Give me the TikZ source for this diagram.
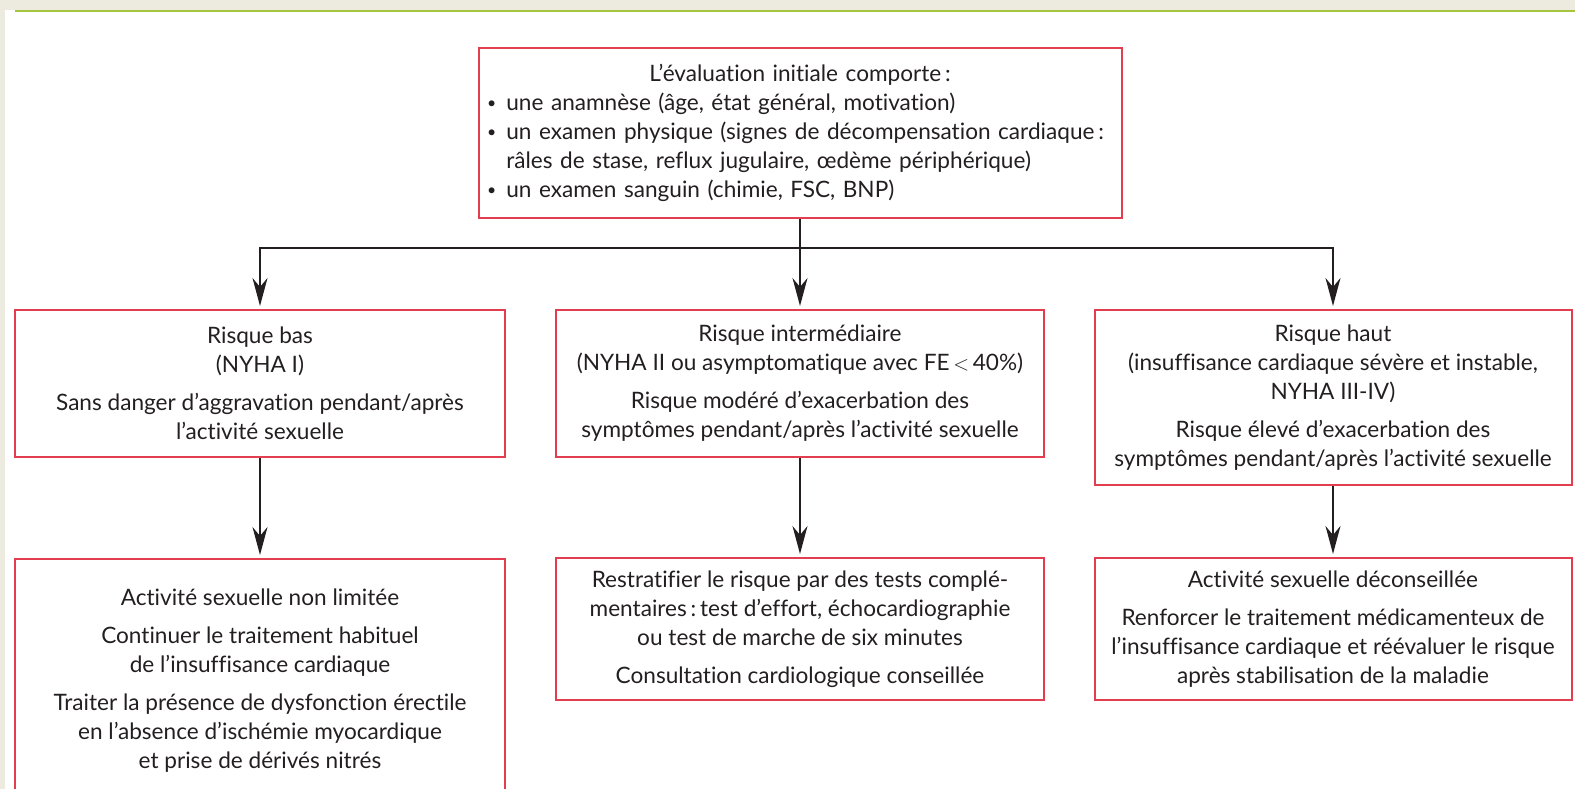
\documentclass[tikz,border=0pt]{standalone}
\usepackage{fontspec}
\setmainfont{Lato}[Ligatures={TeX,NoCommon}]
\usetikzlibrary{arrows.meta}
\definecolor{boxred}{RGB}{226,62,80}
\definecolor{ink}{RGB}{35,31,32}
\definecolor{strip}{RGB}{237,235,223}
\definecolor{rule}{RGB}{166,196,60}
\newcommand{\dotitem}{\raisebox{0.2ex}{\scalebox{0.7}{\textbullet}}\hspace{0.45em}}
\begin{document}
\begin{tikzpicture}[x=1pt, y=-1pt]
  \tikzstyle{every node}=[rectangle, draw=boxred, line width=2pt, text=ink,
    align=center, inner sep=0pt, font=\fontsize{22.6}{29}\selectfont]
  \tikzstyle{arr}=[draw=ink, line width=1.8pt, shorten >=3pt,
    -{Stealth[length=28pt, width=15pt, inset=9pt]}]
  \useasboundingbox (0,0) rectangle (1575,789);
  \clip (0,0) rectangle (1575,789);
  % page frame
  \fill[strip] (0,0) rectangle (1575,10);
  \fill[strip] (0,0) rectangle (5,789);
  \fill[rule] (15,10) rectangle (1575,12.5);

  \path (800,133) node[minimum width=643pt, minimum height=170pt,
      text width=626pt, align=left] (eval)
    {{\centering L’évaluation initiale comporte\,:\par}
     \dotitem une anamnèse (âge, état général, motivation)\\
     \dotitem un examen physique (signes de décompensation cardiaque\,:\\
     \hphantom{\dotitem}râles de stase, reflux jugulaire, œdème périphérique)\\
     \dotitem un examen sanguin (chimie, FSC, BNP)};

  % risk levels
  \path (260,383.5) node[minimum width=490pt, minimum height=147pt] (low)
    {Risque bas\\(NYHA I)\\[9pt]
     Sans danger d’aggravation pendant/après\\l’activité sexuelle};
  \path (800,383.5) node[minimum width=488pt, minimum height=147pt] (mid)
    {Risque intermédiaire\\(NYHA II ou asymptomatique avec FE\,$<$\,40\%)\\[9pt]
     Risque modéré d’exacerbation des\\symptômes pendant/après l’activité sexuelle};
  \path (1333,397.5) node[minimum width=477pt, minimum height=175pt] (high)
    {Risque haut\\(insuffisance cardiaque sévère et instable,\\NYHA III-IV)\\[9pt]
     Risque élevé d’exacerbation des\\symptômes pendant/après l’activité sexuelle};

  % recommendations
  \path (260,681) node[minimum width=490pt, minimum height=244pt] (lowact)
    {Activité sexuelle non limitée\\[9pt]
     Continuer le traitement habituel\\de l’insuffisance cardiaque\\[9pt]
     Traiter la présence de dysfonction érectile\\en l’absence d’ischémie myocardique\\et prise de dérivés nitrés};
  \path (800,629) node[minimum width=488pt, minimum height=142pt] (midact)
    {Restratifier le risque par des tests complé-\\mentaires\,:\,test d’effort, échocardiographie\\ou test de marche de six minutes\\[9pt]
     Consultation cardiologique conseillée};
  \path (1333,629) node[minimum width=477pt, minimum height=142pt] (highact)
    {Activité sexuelle déconseillée\\[9pt]
     Renforcer le traitement médicamenteux de\\l’insuffisance cardiaque et réévaluer le risque\\après stabilisation de la maladie};

  \coordinate (fork) at (800,248);
  \draw[draw=ink, line width=1.8pt] (eval) -- (fork);
  \foreach \n in {low, mid, high}
    \draw[arr] (fork) -| (\n);
  \foreach \a/\b in {low/lowact, mid/midact, high/highact}
    \draw[arr] (\a) -- (\b);
\end{tikzpicture}
\end{document}
